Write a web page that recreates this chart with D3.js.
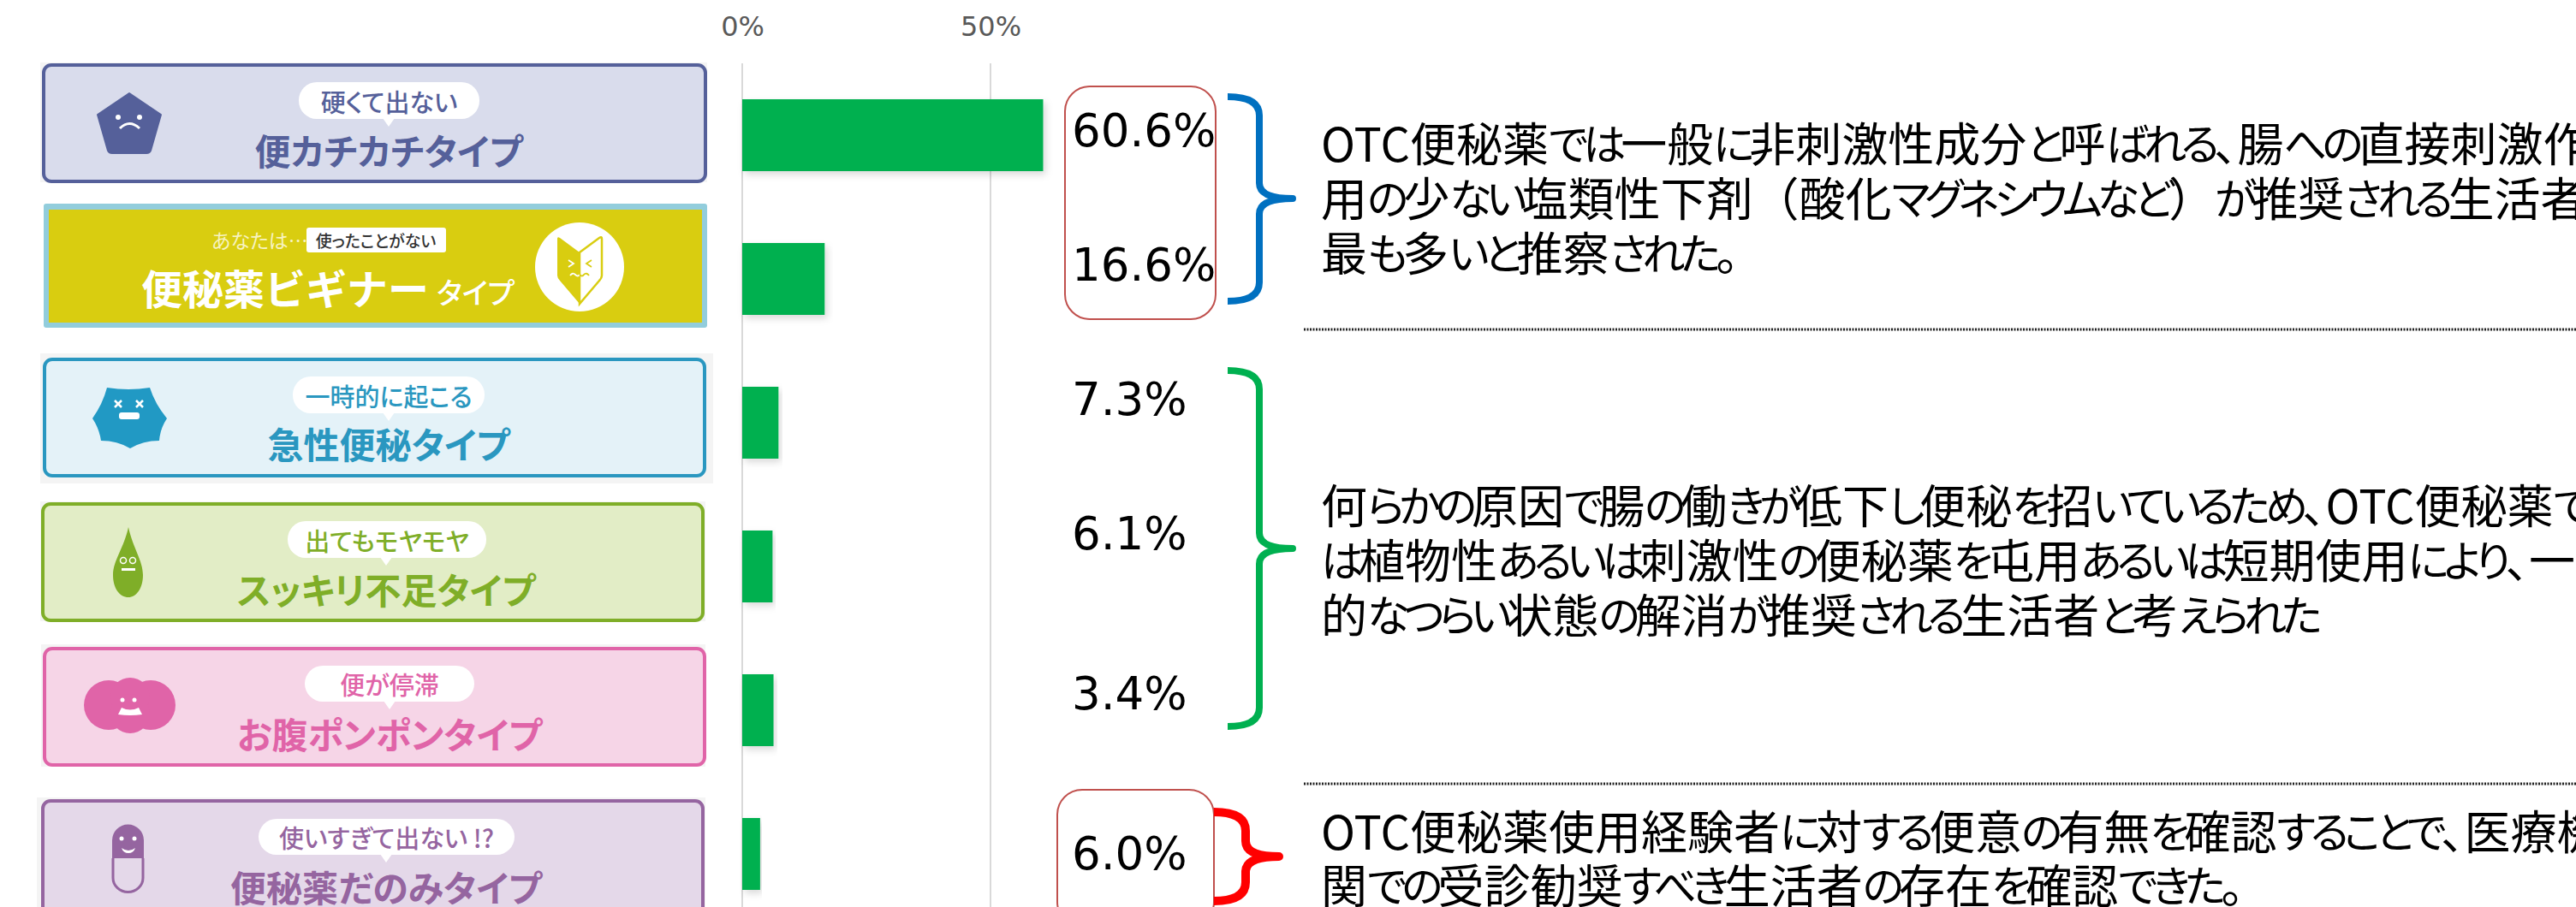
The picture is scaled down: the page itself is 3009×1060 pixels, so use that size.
<!DOCTYPE html>
<html>
<head>
<meta charset="utf-8">
<script src="https://cdn.jsdelivr.net/npm/d3@7"></script>
<style>
  html, body { margin: 0; padding: 0; background: #fff; overflow: hidden; }
  text { font-family: "Noto Sans CJK JP", sans-serif; }
  .palt { font-feature-settings: "palt"; }
  .kana { font-feature-settings: "palt"; font-size: 50px; letter-spacing: -6px; }
  .paren { font-feature-settings: normal; }
</style>
</head>
<body>
<div id="chart"></div>
<script>
// Values
const categories = ["便カチカチタイプ", "便秘薬ビギナータイプ", "急性便秘タイプ", "スッキリ不足タイプ", "お腹ポンポンタイプ", "便秘薬だのみタイプ"];
const barValues = [60.6, 16.6, 7.3, 6.1, 6.3, 3.6];
const valueLabels = ["60.6%", "16.6%", "7.3%", "6.1%", "3.4%", "6.0%"];
const xTicks = [0, 50];
const bubbleTexts = ["硬くて出ない", "", "一時的に起こる", "出てもモヤモヤ", "便が停滞", "使いすぎて出ない !?"];
const noteLines = [
  ["OTC便秘薬では一般に非刺激性成分と呼ばれる、腸への直接刺激作", "用の少ない塩類性下剤（酸化マグネシウムなど）が推奨される生活者が", "最も多いと推察された。"],
  ["何らかの原因で腸の働きが低下し便秘を招いているため、OTC便秘薬で", "は植物性あるいは刺激性の便秘薬を屯用あるいは短期使用により、一時", "的なつらい状態の解消が推奨される生活者と考えられた"],
  ["OTC便秘薬使用経験者に対する便意の有無を確認することで、医療機", "関での受診勧奨すべき生活者の存在を確認できた。"]
];

// Layout of the card graphics and annotations
const cardBoxes = [
  {x: 51, y: 76, w: 773, h: 136, fill: "#d9dcec", color: "#55609a", halo: [47, 73, 779, 140], bubble: [349, 96, 211, 43, 454, 148], subY: 118, mainY: 174},
  null,
  {x: 52, y: 420, w: 771, h: 136, fill: "#e4f2f8", color: "#2a97c0", halo: [47, 413, 786, 152], bubble: [342, 440, 224, 43, 454, 492], subY: 462, mainY: 517},
  {x: 50, y: 589, w: 771, h: 136, fill: "#e2edc6", color: "#7fae28", halo: [47, 586, 777, 140], bubble: [336, 609, 232, 43, 451, 661], subY: 631, mainY: 687},
  {x: 52, y: 758, w: 771, h: 136, fill: "#f6d5e7", color: "#e064a8", halo: [48, 753, 776, 143], bubble: [356, 778, 198, 42, 455, 829], subY: 799, mainY: 856},
  {x: 50, y: 936, w: 771, h: 136, fill: "#e4d8e9", color: "#9565a0", halo: [43, 932, 781, 140], bubble: [302, 957, 299, 42, 451, 1008], subY: 978, mainY: 1035}
];
const labelY = [152, 309, 466, 623, 810, 997];
const braces = [
  {x0: 1434, spine: 1471, tip: 1510, top: 113, mid: 232, bottom: 352, color: "#0070c0", w: 8},
  {x0: 1434, spine: 1471, tip: 1510, top: 433, mid: 641, bottom: 849, color: "#00b050", w: 8},
  {x0: 1418, spine: 1455, tip: 1494, top: 949, mid: 1001, bottom: 1053, color: "#ff0000", w: 10}
];
const noteY = [[165, 229, 293], [588, 652, 716], [969, 1032]];
const dividerY = [385, 916];

const width = 3009, height = 1060;

const svg = d3.select("#chart").append("svg")
  .attr("width", width)
  .attr("height", height)
  .style("display", "block");

const defs = svg.append("defs");
const shadow = defs.append("filter").attr("id", "barShadow")
  .attr("x", "-10%").attr("y", "-10%").attr("width", "120%").attr("height", "125%");
shadow.append("feDropShadow")
  .attr("dx", 3).attr("dy", 4).attr("stdDeviation", 4)
  .attr("flood-color", "#000").attr("flood-opacity", 0.15);

// Scales
const x = d3.scaleLinear().domain([0, 50]).range([867, 1157]);
const y = d3.scaleBand().domain(categories).range([74, 1082]).paddingInner(0.5).paddingOuter(0.25);

// Gridlines
svg.append("g").selectAll("line")
  .data(xTicks)
  .join("line")
  .attr("x1", d => x(d)).attr("x2", d => x(d))
  .attr("y1", 74).attr("y2", height)
  .attr("stroke", "#d9d9d9").attr("stroke-width", 2);

// X axis on top, tick labels only
const xAxis = svg.append("g")
  .attr("transform", "translate(0,42)")
  .call(d3.axisTop(x).tickValues(xTicks).tickSize(0).tickFormat(d => d + "%"));
xAxis.select(".domain").remove();
xAxis.selectAll("text")
  .attr("y", 0)
  .attr("font-size", 32)
  .attr("fill", "#595959")
  .style("font-family", "'DejaVu Sans', sans-serif");

// Bars
svg.append("g").selectAll("rect")
  .data(barValues)
  .join("rect")
  .attr("x", x(0))
  .attr("y", (d, i) => y(categories[i]))
  .attr("width", d => x(d) - x(0))
  .attr("height", y.bandwidth())
  .attr("fill", "#00b050")
  .attr("filter", "url(#barShadow)");

// Cards
function drawBubble(g, b) {
  const [bx, by, bw, bh, tx, ty] = b;
  g.append("rect").attr("x", bx).attr("y", by).attr("width", bw).attr("height", bh)
    .attr("rx", 21).attr("fill", "#fff");
  g.append("path").attr("d", `M${tx - 7},${by + bh - 1}L${tx},${ty}L${tx + 7},${by + bh - 1}Z`).attr("fill", "#fff");
}

cardBoxes.forEach((c, i) => {
  if (!c) return;
  const g = svg.append("g");
  g.append("rect").attr("x", c.halo[0]).attr("y", c.halo[1]).attr("width", c.halo[2]).attr("height", c.halo[3]).attr("fill", "#f4f4f4");
  g.append("rect").attr("x", c.x).attr("y", c.y).attr("width", c.w).attr("height", c.h)
    .attr("rx", 9).attr("fill", c.fill).attr("stroke", c.color).attr("stroke-width", 4);
  drawBubble(g, c.bubble);
  g.append("text").attr("class", "palt")
    .attr("x", c.bubble[0] + c.bubble[2] / 2).attr("y", c.subY)
    .attr("text-anchor", "middle").attr("dominant-baseline", "central")
    .attr("font-size", 29).attr("font-weight", 500).attr("fill", c.color)
    .text(bubbleTexts[i]);
  g.append("text").attr("class", "palt")
    .attr("x", c.bubble[4]).attr("y", c.mainY)
    .attr("text-anchor", "middle").attr("dominant-baseline", "central")
    .attr("font-size", 42).attr("font-weight", 700).attr("fill", c.color)
    .text(categories[i]);
});

// Beginner card
const beg = svg.append("g");
beg.append("rect").attr("x", 51).attr("y", 238).attr("width", 775).attr("height", 145).attr("rx", 3).attr("fill", "#92cddc");
beg.append("rect").attr("x", 57).attr("y", 245).attr("width", 763).attr("height", 132).attr("fill", "#d9cd10");
beg.append("text").attr("class", "palt").attr("x", 247).attr("y", 280).attr("dominant-baseline", "central")
  .attr("font-size", 23).attr("fill", "#f7f3c0").text("あなたは…");
beg.append("rect").attr("x", 358).attr("y", 266).attr("width", 163).attr("height", 29).attr("rx", 3).attr("fill", "#fff");
beg.append("text").attr("class", "palt").attr("x", 439).attr("y", 280).attr("text-anchor", "middle").attr("dominant-baseline", "central")
  .attr("font-size", 19).attr("font-weight", 500).attr("fill", "#333").text("使ったことがない");
beg.append("text").attr("x", 165).attr("y", 335).attr("dominant-baseline", "central")
  .attr("font-size", 48).attr("font-weight", 700).attr("fill", "#fff").text("便秘薬ビギナー");
beg.append("text").attr("class", "palt").attr("x", 510).attr("y", 340).attr("dominant-baseline", "central")
  .attr("font-size", 34).attr("font-weight", 500).attr("fill", "#fff").text("タイプ");
beg.append("circle").attr("cx", 677).attr("cy", 312).attr("r", 52).attr("fill", "#fff");
beg.append("path").attr("d", "M651,279Q651,276 654,278L677,295L677,355L654,328Q651,325 651,322Z").attr("fill", "#d9cd10");
beg.append("path").attr("d", "M677,295L700,278Q703,276 703,279L703,322Q703,325 700,328L677,355Z")
  .attr("fill", "#fff").attr("stroke", "#d9cd10").attr("stroke-width", 2.5);
beg.append("path").attr("d", "M664,304l6,4l-6,4M666,322q3,-4 6,-1q3,3 5,0").attr("fill", "none").attr("stroke", "#fff").attr("stroke-width", 1.8);
beg.append("path").attr("d", "M691,304l-6,4l6,4M677,321q3,3 5,0q3,-3 6,1").attr("fill", "none").attr("stroke", "#d9cd10").attr("stroke-width", 1.8);

// Type icons
const icons = svg.append("g");
// pentagon
icons.append("path").attr("d", "M151,109L188,134L176,176Q175,179 171,179L131,179Q127,179 126,176L114,134Z")
  .attr("fill", "#55609a").attr("stroke", "#55609a").attr("stroke-width", 2).attr("stroke-linejoin", "round");
icons.append("path").attr("d", "M140,150q11,-11 23,0").attr("fill", "none").attr("stroke", "#fff").attr("stroke-width", 3);
icons.selectAll(".e1").data([138, 163]).join("circle").attr("cx", d => d).attr("cy", 137).attr("r", 3).attr("fill", "#fff");
// blob
icons.append("path").attr("d", "M125,453Q150,457 175,453Q181,472 195,489Q187,501 186,515Q167,515 152,524Q137,515 118,515Q116,501 108,489Q120,472 125,453Z")
  .attr("fill", "#2199c4");
icons.append("rect").attr("x", 139).attr("y", 482).attr("width", 24).attr("height", 8).attr("rx", 3).attr("fill", "#fff");
icons.selectAll(".e2").data([138, 163]).join("path")
  .attr("d", d => `M${d - 4},468l8,8M${d + 4},468l-8,8`).attr("stroke", "#fff").attr("stroke-width", 2.5);
// teardrop
icons.append("path").attr("d", "M150,616C155,640 167,655 167,672C167,688 159,698 150,698C140,698 132,688 132,672C132,655 145,640 150,616Z")
  .attr("fill", "#7fae28");
icons.selectAll(".e3").data([144, 155]).join("circle").attr("cx", d => d).attr("cy", 655).attr("r", 3.5).attr("fill", "none").attr("stroke", "#fff").attr("stroke-width", 1.5);
icons.append("rect").attr("x", 142).attr("y", 664).attr("width", 16).attr("height", 3).attr("fill", "#fff");
// cloud
const cloudCircles = [[127, 824, 29], [176, 824, 29], [152, 815, 23], [152, 834, 23]];
icons.selectAll(".c").data(cloudCircles).join("circle")
  .attr("cx", d => d[0]).attr("cy", d => d[1]).attr("r", d => d[2]).attr("fill", "#e064a8");
icons.selectAll(".e4").data([143, 157]).join("circle").attr("cx", d => d).attr("cy", 818).attr("r", 2.5).attr("fill", "#fff");
icons.append("path").attr("d", "M138,835L142,827q10,5 20,0L166,835q-14,2 -28,0Z").attr("fill", "#fff");
// capsule
icons.append("path").attr("d", "M132,1003L132,1026A17,16 0 0 0 167,1026L167,1003").attr("fill", "#e4d8e9").attr("stroke", "#9565a0").attr("stroke-width", 3);
icons.append("path").attr("d", "M131,1003L131,982A18,18 0 0 1 168,982L168,1003Z").attr("fill", "#9565a0");
icons.selectAll(".e5").data([142, 157]).join("circle").attr("cx", d => d).attr("cy", 980).attr("r", 2.5).attr("fill", "#fff");
icons.append("path").attr("d", "M142,991q8,6 16,0q-2,6 -8,6q-6,0 -8,-6Z").attr("fill", "#fff");

// Red outlines round the value labels
svg.append("rect").attr("x", 1244).attr("y", 101).attr("width", 176).attr("height", 272).attr("rx", 29)
  .attr("fill", "none").attr("stroke", "#c0504d").attr("stroke-width", 2);
svg.append("rect").attr("x", 1235).attr("y", 923).attr("width", 183).attr("height", 160).attr("rx", 29)
  .attr("fill", "none").attr("stroke", "#c0504d").attr("stroke-width", 2);

// Value labels
svg.append("g").selectAll("text")
  .data(valueLabels)
  .join("text")
  .attr("x", 1252)
  .attr("y", (d, i) => labelY[i])
  .attr("dominant-baseline", "central")
  .attr("font-size", 53)
  .attr("fill", "#000")
  .style("font-family", "'DejaVu Sans', sans-serif")
  .text(d => d);

// Braces
svg.append("g").selectAll("path")
  .data(braces)
  .join("path")
  .attr("d", b => {
    const r = 22, h = 18;
    return `M${b.x0},${b.top}Q${b.spine},${b.top} ${b.spine},${b.top + r}`
      + `L${b.spine},${b.mid - h}Q${b.spine},${b.mid} ${b.tip},${b.mid}`
      + `Q${b.spine},${b.mid} ${b.spine},${b.mid + h}`
      + `L${b.spine},${b.bottom - r}Q${b.spine},${b.bottom} ${b.x0},${b.bottom}`;
  })
  .attr("fill", "none")
  .attr("stroke", b => b.color)
  .attr("stroke-width", b => b.w)
  .attr("stroke-linejoin", "round");

// Dotted dividers
svg.append("g").selectAll("line")
  .data(dividerY)
  .join("line")
  .attr("x1", 1523).attr("x2", width)
  .attr("y1", d => d).attr("y2", d => d)
  .attr("stroke", "#222").attr("stroke-width", 3).attr("stroke-dasharray", "2 1.5");

// Notes on the right. Kana runs are set tighter than kanji, like the original font
function runsOf(line) {
  return line.match(/[ぁ-んァ-ヶー]+|[（）]+|[^ぁ-んァ-ヶー（）]+/g);
}
noteLines.forEach((lines, n) => {
  const t = svg.append("g").selectAll("text")
    .data(lines)
    .join("text")
    .attr("x", 1543)
    .attr("y", (d, i) => noteY[n][i])
    .attr("dominant-baseline", "central")
    .attr("font-size", 54)
    .attr("fill", "#000");
  t.selectAll("tspan")
    .data(d => runsOf(d))
    .join("tspan")
    .attr("class", d => /^[（）]/.test(d) ? "paren" : /^[ぁ-んァ-ヶー]/.test(d) ? "kana" : "palt")
    .text(d => d);
});
</script>
</body>
</html>
